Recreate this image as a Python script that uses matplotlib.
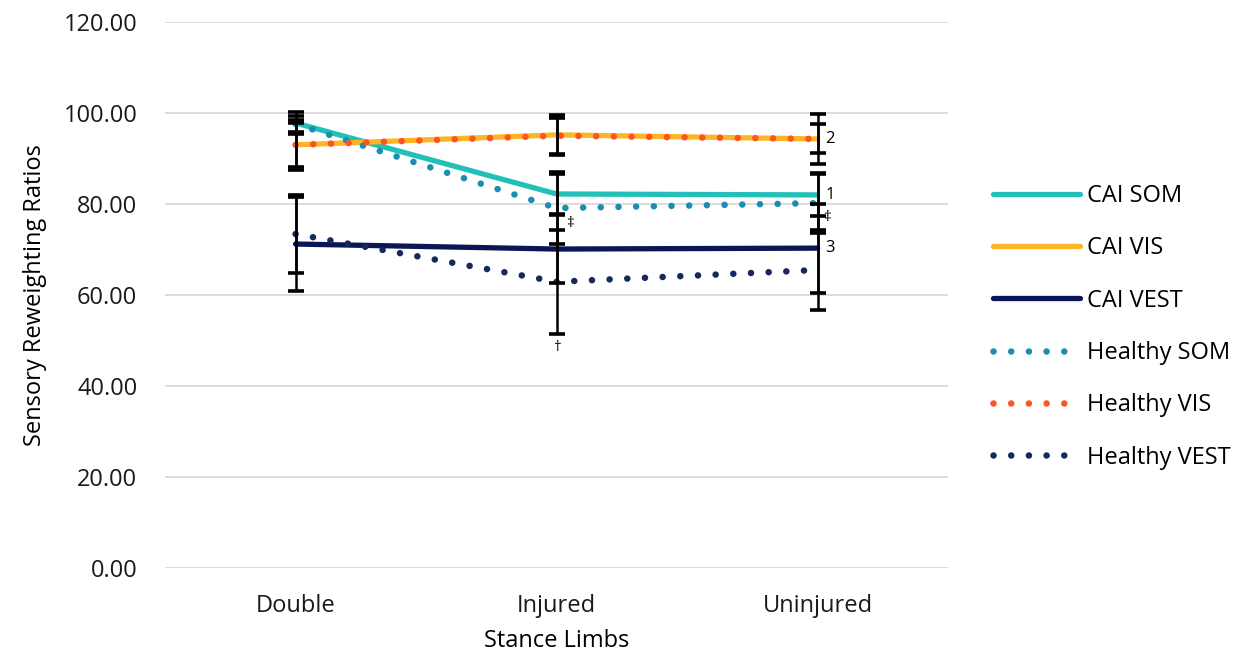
import matplotlib
matplotlib.use("Agg")
import matplotlib.pyplot as plt
from matplotlib.ticker import FormatStrFormatter, MultipleLocator

plt.rcParams['font.family'] = ['Open Sans', 'DejaVu Sans']
plt.rcParams['font.size'] = 17

limbs = ["Double", "Injured", "Uninjured"]

cai_som = [97.8, 82.2, 82.0]
cai_vis = [93.0, 95.2, 94.3]
cai_vest = [71.2, 70.1, 70.3]
healthy_som = [97.6, 79.1, 80.2]
healthy_vis = [93.0, 95.0, 94.3]
healthy_vest = [73.4, 62.9, 65.5]

cai_som_err = [2.5, 4.5, 4.7]
cai_vis_err = [5.5, 4.4, 5.4]
cai_vest_err = [10.3, 7.4, 9.8]
healthy_som_err = [1.8, 7.9, 6.6]
healthy_vis_err = [4.8, 4.0, 3.2]
healthy_vest_err = [8.6, 11.4, 8.8]

x = list(range(len(limbs)))

fig = plt.figure(figsize=(12.55, 6.65), dpi=100)
ax = fig.add_axes([0.1315, 0.1459, 0.624, 0.821])

solid = dict(lw=3.8, solid_capstyle='round')
dots = dict(lw=4.7, linestyle=(0, (0.01, 2.7)), dash_capstyle='round')

series = [
    ("CAI SOM", cai_som, cai_som_err, "#22c0b8", solid),
    ("CAI VIS", cai_vis, cai_vis_err, "#fdb526", solid),
    ("CAI VEST", cai_vest, cai_vest_err, "#0a1655", solid),
    ("Healthy SOM", healthy_som, healthy_som_err, "#1b8db2", dots),
    ("Healthy VIS", healthy_vis, healthy_vis_err, "#fd5522", dots),
    ("Healthy VEST", healthy_vest, healthy_vest_err, "#17285a", dots),
]

for i, (name, vals, err, color, style) in enumerate(series):
    ax.plot(x, vals, color=color, label=name, zorder=3 + i, **style)
    ax.errorbar(x, vals, yerr=err, fmt='none', ecolor='black', elinewidth=1.8,
                capsize=5.5, capthick=2.6, zorder=10)

# significance markers
ax.text(2.03, cai_som[2], "1", fontsize=12, va='center', ha='left')
ax.text(2.03, cai_vis[2], "2", fontsize=12, va='center', ha='left')
ax.text(2.03, cai_vest[2], "3", fontsize=12, va='center', ha='left')
ax.text(1.05, 75.8, "\u2021", fontsize=11, va='center', ha='center')
ax.text(2.035, 77.0, "\u2021", fontsize=11, va='center', ha='center')
ax.text(1.0, 48.5, "\u2020", fontsize=11, va='center', ha='center')

ax.set_xlim(-0.5, 2.5)
ax.set_ylim(0, 120)
ax.set_xticks(x)
ax.set_xticklabels(limbs)
ax.yaxis.set_major_locator(MultipleLocator(20))
ax.yaxis.set_major_formatter(FormatStrFormatter('%.2f'))
ax.grid(axis='y', color='#d9d9d9', lw=1.3, zorder=0)
ax.set_axisbelow(True)
for s in ax.spines.values():
    s.set_visible(False)
ax.tick_params(length=0, labelsize=17, colors='#1a1a1a')
ax.tick_params(axis='y', pad=20)
ax.tick_params(axis='x', pad=19)

ax.set_xlabel("Stance Limbs", fontsize=17, labelpad=8)
ax.set_ylabel("Sensory Reweighting Ratios", fontsize=17, labelpad=12)

fig.legend(loc='upper left', bbox_to_anchor=(993 / 1255, (665 - 184) / 665),
           bbox_transform=fig.transFigure, frameon=False, borderpad=0,
           borderaxespad=0, handlelength=3.7, handletextpad=0.3,
           labelspacing=1.2, fontsize=17)

fig.savefig("out.png", dpi=100)
